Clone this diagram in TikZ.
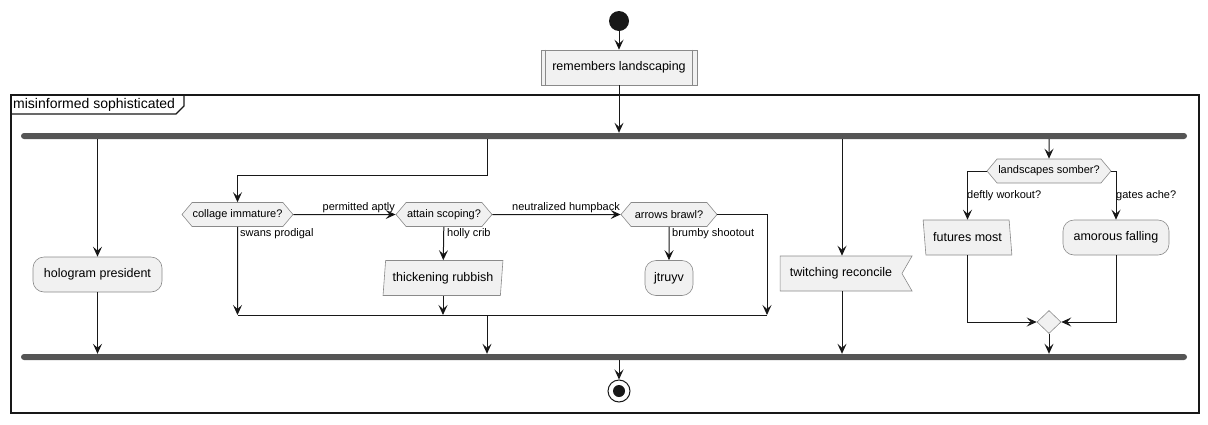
\documentclass[tikz,border=0pt]{standalone}
\usepackage{fontspec}
\setmainfont{Liberation Sans}
\usetikzlibrary{arrows.meta,shapes.geometric,shapes.symbols}
\definecolor{actfill}{HTML}{F1F1F1}
\definecolor{actline}{HTML}{181818}
\definecolor{actedge}{HTML}{8A8A8A}
\definecolor{barcol}{HTML}{555555}
\tikzset{
	flow/.style={draw=actline, line width=1pt, -{Stealth[length=10pt,width=9pt,inset=4pt]}},
	link/.style={draw=actline, line width=1pt},
	box/.style={draw=actedge, fill=actfill, line width=0.6pt, inner sep=0pt, font=\fontsize{12.5}{15}\selectfont},
	act/.style={box, rectangle, rounded corners=11pt, minimum height=35pt},
	subbox/.style={box, rectangle, minimum height=35pt},
	choice/.style={box, signal, signal to=east and west, signal pointer angle=100, minimum height=24pt, font=\fontsize{11}{13}\selectfont},
	inbox/.style={box, trapezium, trapezium stretches=true, trapezium left angle=79, trapezium right angle=101, minimum height=35pt},
	outbox/.style={box, trapezium, trapezium stretches=true, trapezium left angle=104, trapezium right angle=76, minimum height=35pt},
	getbox/.style={box, signal, signal from=east, signal to=nowhere, signal pointer angle=120, minimum height=35pt},
	bar/.style={rectangle, fill=barcol, rounded corners=3pt, minimum width=1166pt, minimum height=6pt, inner sep=0pt},
	lbl/.style={inner sep=0pt, font=\fontsize{11}{13}\selectfont},
	frame/.style={draw=actline, line width=1.3pt}
}
\begin{document}
\begin{tikzpicture}[x=1pt, y=-1pt]
	\useasboundingbox (0,0) rectangle (1208,424);
	\draw[frame] (11,95) rectangle (1199,413);
	\draw[frame] (11,114) -- (176,114) -- (184,106) -- (184,95);
	\node[lbl, anchor=west, font=\fontsize{14}{16}\selectfont] (G) at (13,104.5) {misinformed sophisticated};

	\node[circle, fill=actline, minimum size=20pt, inner sep=0pt] (I) at (619,21) {};
	\node[subbox, minimum width=156pt] (R) at (619,67.5) {remembers landscaping};
	\draw[draw=actedge, line width=0.6pt] ([xshift=5pt]R.north west) -- ([xshift=5pt]R.south west);
	\draw[draw=actedge, line width=0.6pt] ([xshift=-5pt]R.north east) -- ([xshift=-5pt]R.south east);
	\node[bar] (F) at (604,136) {};
	\node[bar] (J) at (604,357) {};
	\node[circle, draw=actline, fill=white, line width=1pt, minimum size=22pt, inner sep=0pt,
		path picture={\fill[actline] (path picture bounding box.center) circle (6pt);}] (E) at (619,391) {};

	\node[act, minimum width=129pt] (H) at (97.5,274.5) {hologram president};

	\node[choice, minimum width=111pt] (D1) at (237.5,214.5) {collage immature?};
	\node[choice, minimum width=96pt] (D2) at (444,214.5) {attain scoping?};
	\node[choice, minimum width=96pt] (D3) at (669,214.5) {arrows brawl?};
	\node[inbox, minimum width=120pt] (T) at (443,278) {thickening rubbish};
	\node[act, minimum width=48pt] (U) at (669,278) {jtruyv};
	\coordinate (K0) at (487,175);
	\coordinate (K1) at (238,315);
	\coordinate (K2) at (767,315);

	\node[getbox, minimum width=132pt] (W) at (841,273.5) {twitching reconcile};
	\coordinate (K3) at (842,273.5);

	\node[choice, minimum width=124pt] (D4) at (1049,171) {landscapes somber?};
	\node[outbox, minimum width=89pt] (P) at (967.5,237.5) {futures most};
	\node[act, minimum width=106pt] (M) at (1116,237.5) {amorous falling};
	\node[diamond, draw=actedge, fill=actfill, line width=0.6pt, inner sep=0pt, minimum width=24pt, minimum height=23pt] (X) at (1049,322) {};

	\node[lbl, anchor=east] (L1) at (395,208) {permitted aptly};
	\node[lbl, anchor=east] (L2) at (620,208) {neutralized humpback};
	\node[lbl, anchor=west] (L3) at (240,234) {swans prodigal};
	\node[lbl, anchor=west] (L4) at (447,234) {holly crib};
	\node[lbl, anchor=west] (L5) at (672,234) {brumby shootout};
	\node[lbl, anchor=west] (L6) at (967,196) {deftly workout?};
	\node[lbl, anchor=west] (L7) at (1116,196) {gates ache?};

	\path [flow] (I) edge (R);
	\path [flow] (D1) edge (D2);
	\path [flow] (D2) edge (D3);
	\path [flow] (D2) edge (T);
	\path [flow] (D3) edge (U);
	\draw[flow] (R) -- (R |- F.north);
	\draw[flow] (F.south -| H) -- (H);
	\draw[flow] (H) -- (H |- J.north);
	\draw[flow] (F.south -| K0) -- (K0) -| (D1);
	\draw[flow] (D1) -- (D1 |- K1);
	\draw[flow] (T) -- (T |- K1);
	\draw[flow] (D3.east) -| (K2);
	\draw[link] (K1) -- (K2);
	\draw[flow] (K0 |- K1) -- (K0 |- J.north);
	\draw[flow] (F.south -| K3) -- (K3 |- W.north);
	\draw[flow] (K3 |- W.south) -- (K3 |- J.north);
	\draw[flow] (F.south -| D4) -- (D4);
	\draw[flow] (D4.west) -| (P);
	\draw[flow] (D4.east) -| (M);
	\draw[flow] (P) |- (X);
	\draw[flow] (M) |- (X);
	\draw[flow] (X) -- (X |- J.north);
	\draw[flow] (J.south -| E) -- (E);
\end{tikzpicture}
\end{document}
